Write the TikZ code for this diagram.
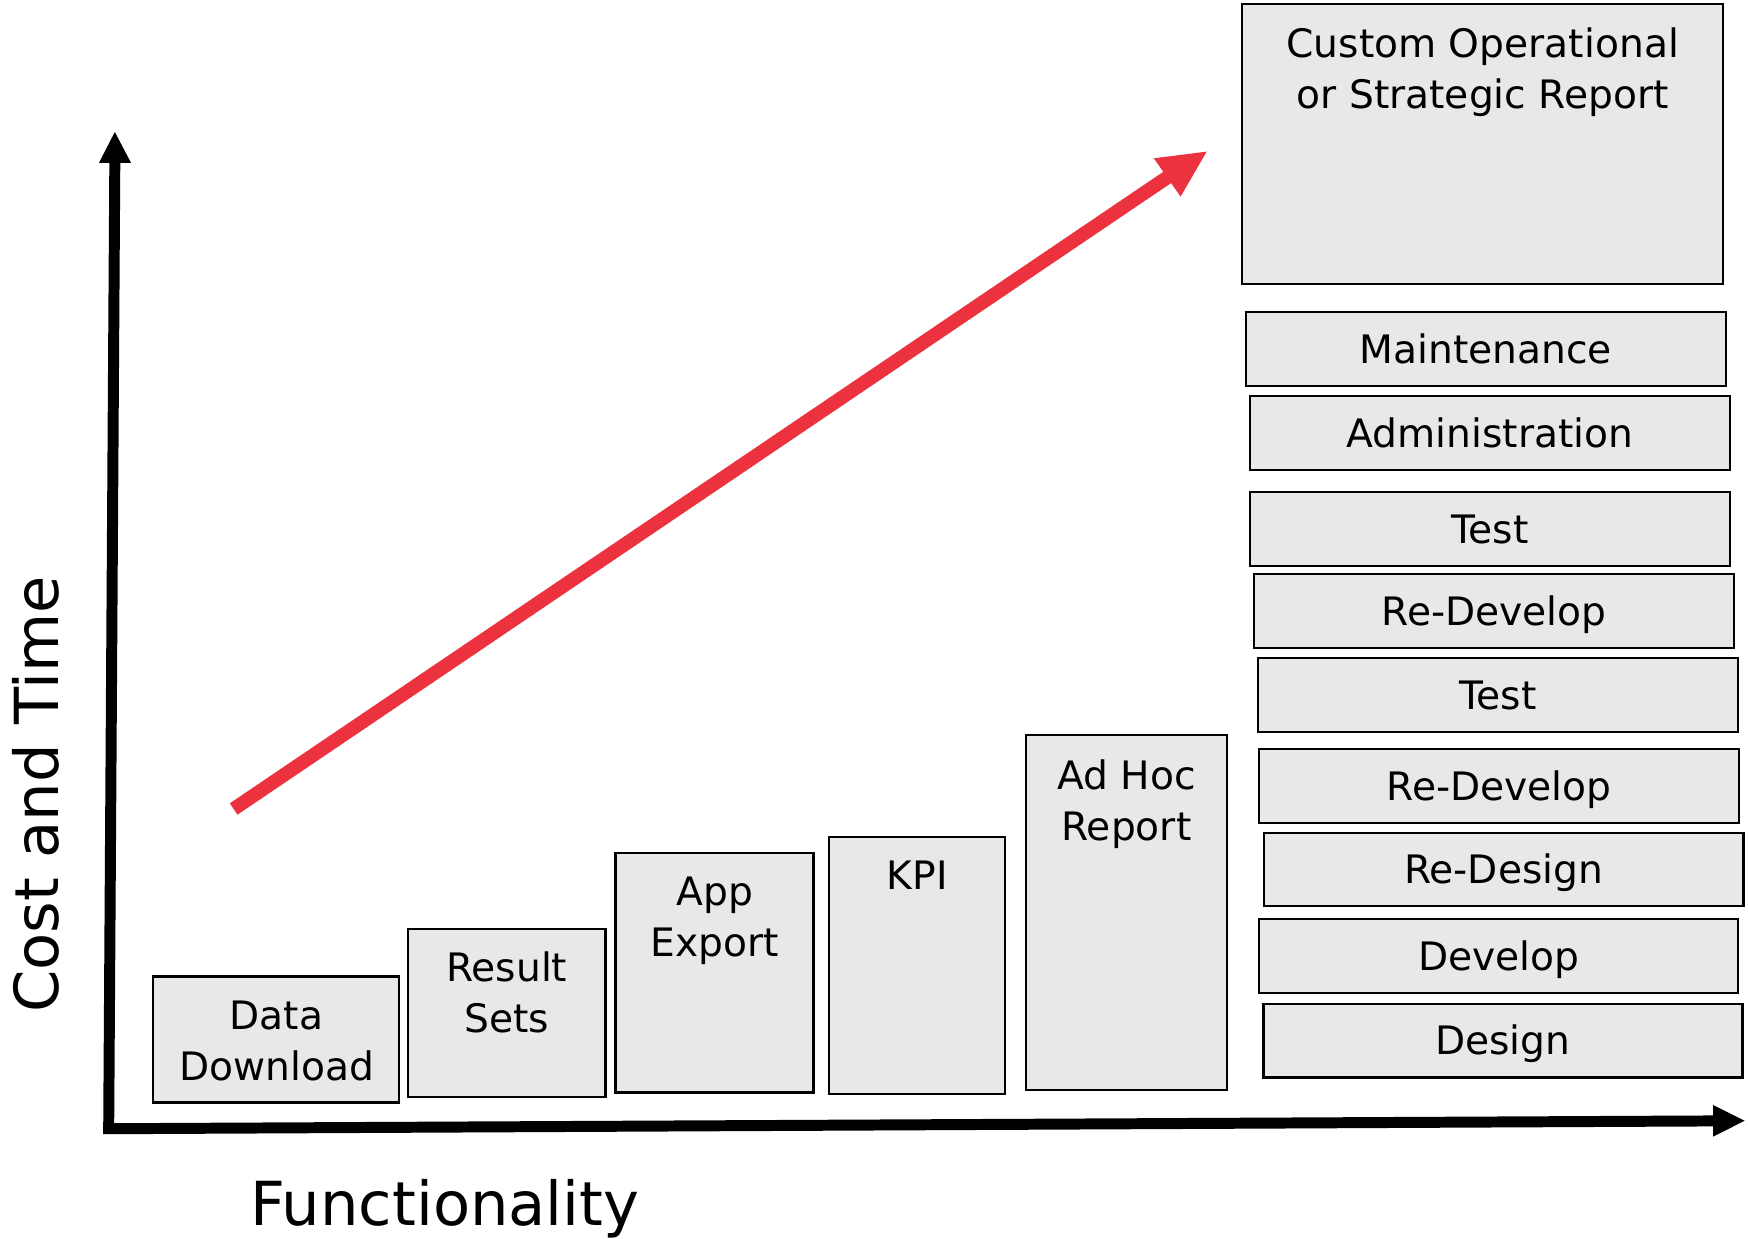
\documentclass[tikz,border=0pt]{standalone}
\usepackage{fontspec}
\setmainfont{DejaVu Sans}
\usetikzlibrary{fit}
\definecolor{boxgray}{RGB}{232,232,232}
\definecolor{arrowred}{RGB}{236,50,62}

\begin{document}
\begin{tikzpicture}[scale=0.2]
\tikzstyle{every node}+=[inner sep=0pt]
\tikzstyle{box}=[draw=black, fill=boxgray, line width=1.2pt]
\tikzstyle{lbl}=[align=center, font=\fontsize{20}{26}\selectfont]
\tikzstyle{row}=[font=\fontsize{20}{26}\selectfont, text height=14.6pt, text depth=0pt]
\tikzstyle{big}=[font=\fontsize{31}{37}\selectfont, text height=22.6pt, text depth=0pt]
\tikzstyle{axis}=[line width=5.6pt, line join=miter]
\useasboundingbox (0,0) rectangle (156.8,-111.1);
% axes
\coordinate (origin) at (9.75,-101.25);
\coordinate (ytop) at (10.3,-14.5);
\coordinate (xend) at (153.8,-100.55);
\draw [axis] (ytop) -- (origin) -- (xend);
\fill [black] (10.3,-11.84) -- (8.88,-14.6) -- (11.75,-14.6);
\fill [black] (156.5,-100.53) -- (153.67,-99.12) -- (153.67,-101.96);
\node [big, rotate=90] (ylabel) at (3.25,-71.25) {Cost and Time};
\node [big] (xlabel) at (39.9,-107.94) {Functionality};
% red trend arrow
\coordinate (rtail) at (20.96,-72.57);
\coordinate (rhead) at (104.8,-15.85);
\draw [arrowred, line width=7pt] (rtail) -- (rhead);
\fill [arrowred] (108.24,-13.6) -- (103.5,-14.2) -- (105.9,-17.64) -- cycle;
% report types
\node [box, fit={(13.7,-87.61) (35.8,-98.91)}] (data) {};
\draw (24.8,-93.34) node [lbl] (datatxt) {Data\\Download};
\node [box, fit={(36.6,-83.33) (54.3,-98.43)}] (result) {};
\draw (45.45,-88.99) node [lbl] (resulttxt) {Result\\Sets};
\node [box, fit={(55.2,-76.49) (72.96,-98.0)}] (appexp) {};
\draw (64.1,-82.61) node [lbl] (appexptxt) {App\\Export};
\node [box, fit={(74.39,-75.11) (90.15,-98.14)}] (kpi) {};
\draw (82.27,-78.5) node [row] (kpitxt) {KPI};
\node [box, fit={(92.04,-65.93) (110.04,-97.78)}] (adhoc) {};
\draw (101.04,-72.17) node [lbl] (adhoctxt) {Ad Hoc\\Report};
\node [box, fit={(111.42,-0.36) (154.56,-25.48)}] (custom) {};
\draw (133.0,-6.45) node [lbl] (customtxt) {Custom Operational\\or Strategic Report};
% custom report stack
\node [box, fit={(111.77,-27.99) (154.8,-34.6)}] (maint) {};
\node [row] (mainttxt) at (maint.center) {Maintenance};
\node [box, fit={(112.13,-35.52) (155.19,-42.16)}] (admin) {};
\node [row] (admintxt) at (admin.center) {Administration};
\node [box, fit={(112.13,-44.13) (155.19,-50.77)}] (test1) {};
\node [row] (test1txt) at (test1.center) {Test};
\node [box, fit={(112.49,-51.49) (155.55,-58.13)}] (redev1) {};
\node [row] (redev1txt) at (redev1.center) {Re-Develop};
\node [box, fit={(112.85,-59.03) (155.91,-65.66)}] (test2) {};
\node [row] (test2txt) at (test2.center) {Test};
\node [box, fit={(112.94,-67.19) (156.0,-73.8)}] (redev2) {};
\node [row] (redev2txt) at (redev2.center) {Re-Develop};
\node [box, fit={(113.39,-74.7) (156.39,-81.27)}] (redesign) {};
\node [row] (redesigntxt) at (redesign.center) {Re-Design};
\node [box, fit={(112.94,-82.44) (155.93,-89.05)}] (develop) {};
\node [row] (developtxt) at (develop.center) {Develop};
\node [box, fit={(113.33,-90.06) (156.3,-96.64)}] (design) {};
\node [row] (designtxt) at (design.center) {Design};
\end{tikzpicture}
\end{document}
